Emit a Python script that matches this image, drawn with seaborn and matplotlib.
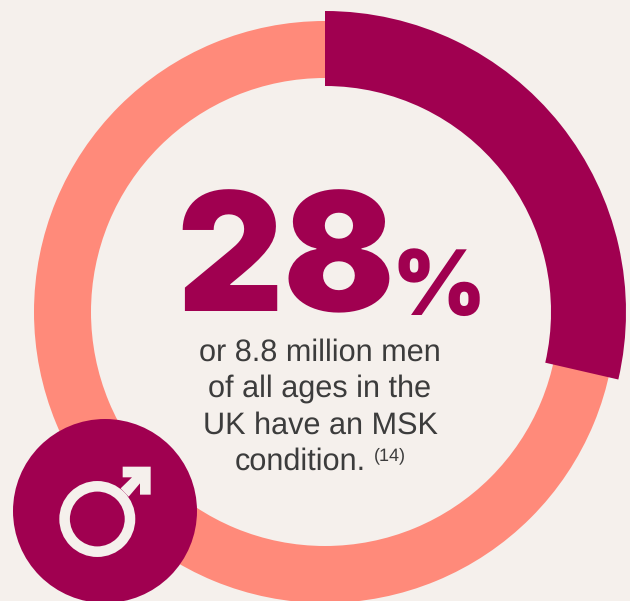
import matplotlib
matplotlib.use("Agg")
import matplotlib.pyplot as plt
from matplotlib.patches import Circle, Polygon
import seaborn as sns

# --- data ---
segment_labels = ["Men with an MSK condition", "Other men"]
segment_values = [28.6, 71.4]
headline = "28"
headline_unit = "%"
body_lines = ["or 8.8 million men", "of all ages in the", "UK have an MSK"]
last_line = "condition."
citation = "(14)"

BG = "#F5F0EC"
DARK = "#A00050"
SALMON = "#FF8A7A"
TEXT = "#3C3C3C"
H = 601

sns.set_theme(style="white", rc={"figure.facecolor": BG, "axes.facecolor": BG})
plt.rcParams["font.family"] = ["Liberation Sans", "DejaVu Sans"]
plt.rcParams["text.hinting"] = "none"

fig = plt.figure(figsize=(6.30, 6.01), dpi=100)
ax = fig.add_axes([0, 0, 1, 1])
cx, cy = 325, H - 312

# salmon full ring
ax.pie([sum(segment_values)], colors=[SALMON], center=(cx, cy), radius=291,
       startangle=90, counterclock=False,
       wedgeprops=dict(width=291 - 234, linewidth=0))
# dark share on a wider ring
wedges, _ = ax.pie(segment_values, colors=[DARK, "none"], center=(cx, cy), radius=301,
                   startangle=90, counterclock=False,
                   wedgeprops=dict(width=301 - 226, linewidth=0))
ax.set_xlim(0, 630)
ax.set_ylim(0, H)
ax.set_aspect("equal")
ax.axis("off")

# badge
ax.add_patch(Circle((105, H - 511), 92, fc=DARK, ec="none", zorder=5))
# male sign
ax.add_patch(Circle((97.3, H - 519), 32.7, fc="none", ec=BG, lw=7.6, zorder=6))
def z(px, py):
    return (px / 3, H - (400 + py / 3))
head = [z(368, 200), z(452, 200), z(452, 284), z(420, 284), z(420, 250), z(386, 290),
        z(362, 265), z(396, 232), z(368, 232)]
ax.add_patch(Polygon(head, closed=True, fc=BG, ec="none", zorder=6))

# headline
ax.text(176, H - 311, headline, family=["Inter", "DejaVu Sans"], fontweight=900,
        fontsize=119, color=DARK, ha="left", va="baseline")
ax.text(391, H - 315, headline_unit, family=["Inter", "DejaVu Sans"], fontweight=900,
        fontsize=65, color=DARK, ha="left", va="baseline")

# body
baselines = [361, 397, 434]
for line, b in zip(body_lines, baselines):
    ax.text(320, H - b, line, fontsize=22.1, color=TEXT, ha="center", va="baseline")
ax.text(235, H - 470, last_line, fontsize=22.1, color=TEXT, ha="left", va="baseline")
ax.text(374, H - 460, citation, fontsize=13, color=TEXT, ha="left", va="baseline")

fig.savefig("out.png", dpi=100, facecolor=BG)
